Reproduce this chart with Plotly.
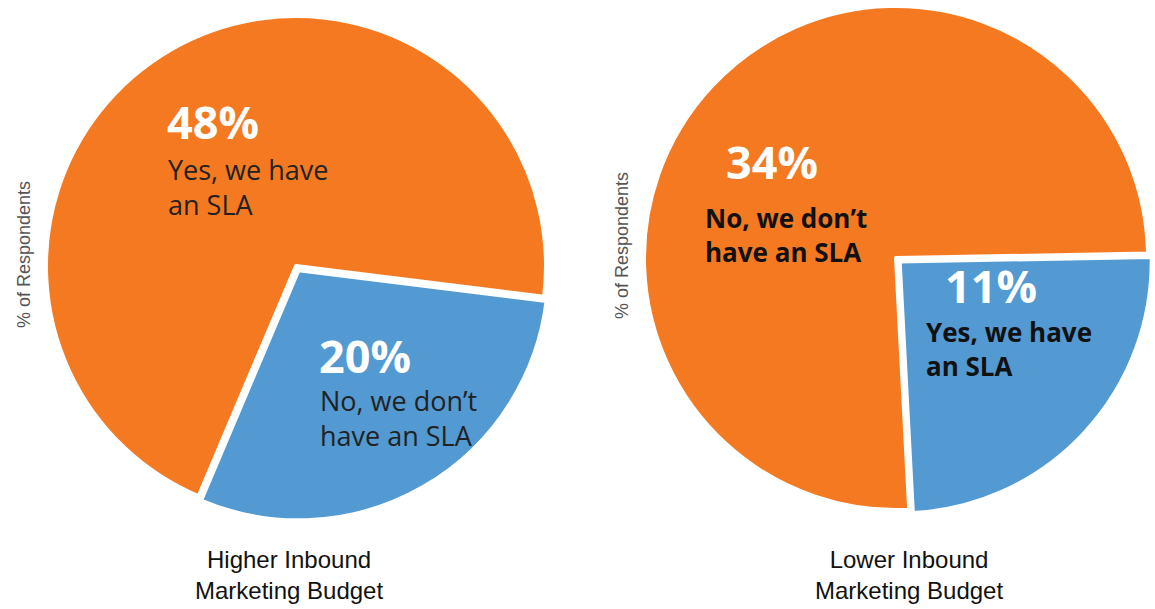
import plotly.graph_objects as go

# ---- data -------------------------------------------------------------
group_titles = ["Higher Inbound<br>Marketing Budget", "Lower Inbound<br>Marketing Budget"]

higher_labels = ["No, we don’t<br>have an SLA", "Yes, we have<br>an SLA"]
higher_values = [20, 48]

lower_labels = ["Yes, we have<br>an SLA", "No, we don’t<br>have an SLA"]
lower_values = [11, 34]

axis_title = "% of Respondents"

# ---- styling ----------------------------------------------------------
W, H = 1155, 609
BLUE = "#5399D2"
ORANGE = "#F57920"
LABEL_FONT = "Open Sans"
CAPTION_FONT = "Liberation Sans, Arial, sans-serif"


def px_x(x):
    return x / W


def px_y(y):
    return 1 - y / H


def pie_trace(labels, values, cx, cy, r, pull, mid_angle):
    size = 2 * r * (1 + pull)
    span = values[0] / sum(values) * 360
    return go.Pie(
        labels=[lab.replace("<br>", " ") for lab in labels],
        values=values,
        sort=False,
        direction="clockwise",
        rotation=mid_angle - span / 2,
        pull=[pull, 0],
        marker=dict(colors=[BLUE, ORANGE], line=dict(color="white", width=4)),
        textinfo="none",
        hoverinfo="label+value",
        domain=dict(
            x=[px_x(cx - size / 2), px_x(cx + size / 2)],
            y=[px_y(cy + size / 2), px_y(cy - size / 2)],
        ),
    )


fig = go.Figure()
fig.add_trace(pie_trace(higher_labels, higher_values, 296, 266, 250, 0.02, 150))
fig.add_trace(pie_trace(lower_labels, lower_values, 896, 258, 252, 0.02, 133))

annotations = []


def slice_caption(value, label, pct_pos, text_pos, bold):
    annotations.append(dict(
        text=f"<b>{value}%</b>", x=px_x(pct_pos[0] - 3), y=px_y(pct_pos[1]),
        xref="paper", yref="paper", xanchor="left", yanchor="middle", showarrow=False,
        font=dict(family=LABEL_FONT, size=45, color="white"),
    ))
    annotations.append(dict(
        text=f"<b>{label.replace('<br>', '</b><br><b>')}</b>" if bold else label,
        x=px_x(text_pos[0] - 2), y=px_y(text_pos[1]),
        xref="paper", yref="paper", xanchor="left", yanchor="middle", align="left",
        showarrow=False,
        font=dict(family=LABEL_FONT, size=26 if bold else 27,
                  color="#111111" if bold else "#222222"),
    ))


# higher budget pie
slice_caption(higher_values[1], higher_labels[1], (168, 122), (168, 187), False)
slice_caption(higher_values[0], higher_labels[0], (320, 355), (320, 418), False)
# lower budget pie
slice_caption(lower_values[1], lower_labels[1], (727, 161), (705, 235), True)
slice_caption(lower_values[0], lower_labels[0], (946, 285), (926, 349), True)

for title, cx in zip(group_titles, (289, 909)):
    annotations.append(dict(
        text=title, x=px_x(cx), y=px_y(575), xref="paper", yref="paper",
        xanchor="center", yanchor="middle", showarrow=False,
        font=dict(family=CAPTION_FONT, size=24, color="#111111"),
    ))

for x, y in ((24, 255), (622, 246)):
    annotations.append(dict(
        text=axis_title, x=px_x(x), y=px_y(y), xref="paper", yref="paper",
        xanchor="center", yanchor="middle", showarrow=False, textangle=-90,
        font=dict(family=CAPTION_FONT, size=18, color="#555555"),
    ))

fig.update_layout(
    width=W, height=H,
    margin=dict(l=0, r=0, t=0, b=0),
    showlegend=False,
    paper_bgcolor="white",
    plot_bgcolor="white",
    annotations=annotations,
)

fig.write_html("out.html")
